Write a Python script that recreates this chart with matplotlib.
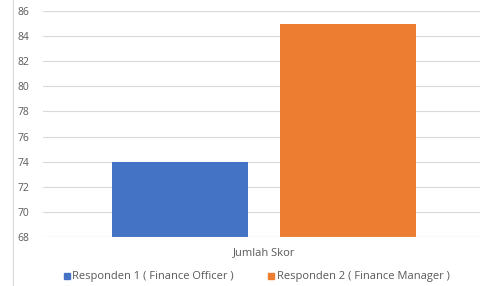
import matplotlib
matplotlib.use("Agg")
import matplotlib.pyplot as plt
from matplotlib.lines import Line2D

category = "Jumlah Skor"
series = ["Responden 1 ( Finance Officer )", "Responden 2 ( Finance Manager )"]
values = [74, 85]
colors = ["#4472C4", "#ED7D31"]
yticks = [68, 70, 72, 74, 76, 78, 80, 82, 84, 86]

plt.rcParams['font.family'] = ['Open Sans', 'DejaVu Sans']

fig = plt.figure(figsize=(4.8, 2.86), dpi=100)
ax = fig.add_axes([0.0896, 0.1713, 0.921, 0.790])

width = 0.308
offsets = [-0.19, 0.19]
for off, v, c, name in zip(offsets, values, colors, series):
    ax.bar(off, v - 68, bottom=68, width=width, color=c, label=name, zorder=3)

ax.set_xlim(-0.5, 0.5)
ax.set_ylim(68, 86)
ax.set_yticks(yticks)
ax.tick_params(axis='y', length=0, labelsize=7.5, labelcolor="#595959", pad=10)
ax.set_xticks([])
ax.yaxis.grid(True, color="#D9D9D9", linewidth=0.8, zorder=0)
for s in ax.spines.values():
    s.set_visible(False)
ax.axhline(68, color="#D9D9D9", linewidth=0.8, zorder=4)

fig.text(264 / 480, 1 - 253 / 286, category, ha='center', va='center',
         fontsize=8, color="#595959")

handles = [Line2D([0], [0], marker='s', linestyle='', markersize=5,
                  markerfacecolor=c, markeredgecolor=c) for c in colors]
fig.legend(handles, series, loc='center', bbox_to_anchor=(256 / 480, 1 - 277 / 286),
           ncol=2, frameon=False, fontsize=8, handletextpad=0.1,
           columnspacing=3.0, labelcolor="#595959", handlelength=0.8)

fig.add_artist(Line2D([13 / 480, 13 / 480], [0, 1], color="#D9D9D9", linewidth=0.8))

fig.savefig("out.png", dpi=100)
